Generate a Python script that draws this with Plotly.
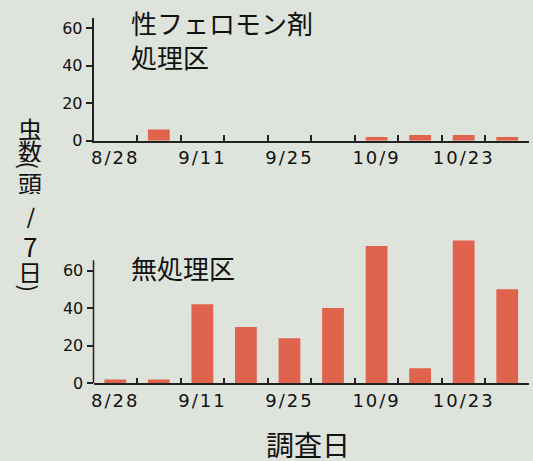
import plotly.graph_objects as go

dates = ["8/28", "9/4", "9/11", "9/18", "9/25", "10/2", "10/9", "10/16", "10/23", "10/30"]
pheromone = [0, 6, 0, 0, 0, 0, 2, 3, 3, 2]
untreated = [2, 2, 42, 30, 24, 40, 73, 8, 76, 50]
y_ticks = [0, 20, 40, 60]
label_top = "性フェロモン剤<br>処理区"
label_bottom = "無処理区"
x_title = "調査日"
y_title_chars = ["虫", "数", "(", "頭", "/", "7", "日", ")"]

W, H = 533, 461
BG = "#dee3dc"
BAR = "#df634d"
AX = "#222222"
TXT = "#111111"
CJK = "Noto Sans CJK JP"

xpos = list(range(len(dates)))

fig = go.Figure()
fig.add_trace(go.Bar(x=xpos, y=pheromone, width=0.5, marker=dict(color=BAR, line_width=0),
                     xaxis="x", yaxis="y", showlegend=False))
fig.add_trace(go.Bar(x=xpos, y=untreated, width=0.5, marker=dict(color=BAR, line_width=0),
                     xaxis="x2", yaxis="y2", showlegend=False))

xdom = [93.5 / W, 529 / W]
ppu = 1.88
top_base = 140.7
bot_base = 383.3
ymax_line = 65.5
top_dom = [(H - top_base) / H, (H - top_base + ymax_line * ppu) / H]
bot_dom = [(H - bot_base) / H, (H - bot_base + 80 * ppu) / H]

xcommon = dict(
    range=[-0.5, len(dates) - 0.5],
    tickmode="array",
    tickvals=xpos[0::2],
    ticktext=dates[0::2],
    ticks="",
    showline=True, linecolor=AX, linewidth=1.5,
    showgrid=False, zeroline=False, automargin=False,
    tickfont=dict(family="DejaVu Sans", size=18, color=TXT),
    minor=dict(tickmode="array", tickvals=[i + 0.5 for i in xpos[:-1]],
               ticks="inside", ticklen=6, tickwidth=1.5, tickcolor=AX, showgrid=False),
    fixedrange=True,
)
ycommon = dict(
    tickmode="array", tickvals=y_ticks,
    ticks="outside", ticklen=6, tickwidth=1.5, tickcolor=AX,
    showgrid=False, zeroline=False, automargin=False,
    tickfont=dict(family="DejaVu Sans", size=16, color=TXT),
    fixedrange=True,
)

fig.update_layout(
    width=W, height=H, autosize=False,
    margin=dict(l=0, r=0, t=0, b=0, pad=0, autoexpand=False),
    paper_bgcolor=BG, plot_bgcolor=BG,
    bargap=0.5,
    xaxis=dict(domain=xdom, anchor="y", **xcommon),
    yaxis=dict(domain=top_dom, anchor="x", range=[0, ymax_line],
               showline=True, linecolor=AX, linewidth=1.5, **ycommon),
    xaxis2=dict(domain=xdom, anchor="y2", **xcommon),
    yaxis2=dict(domain=bot_dom, anchor="x2", range=[0, 80], showline=False, **ycommon),
    shapes=[dict(type="line", xref="x2 domain", yref="y2", x0=0, x1=0, y0=0, y1=ymax_line,
                 line=dict(color=AX, width=1.5))],
)

ann = [
    dict(text=label_top, x=128.5 / W, y=(H - 2) / H, xanchor="left", yanchor="top", align="left",
         font=dict(family=CJK, size=26, color=TXT)),
    dict(text=label_bottom, x=128.5 / W, y=(H - 247) / H, xanchor="left", yanchor="top", align="left",
         font=dict(family=CJK, size=26, color=TXT)),
    dict(text=x_title, x=308 / W, y=(H - 444) / H, xanchor="center", yanchor="middle",
         height=32, font=dict(family=CJK, size=28, color=TXT)),
]
y_centers = [128, 150, 164.5, 181.5, 215.5, 245, 271, 287.5]
y_sizes = [24, 24, 22, 24, 26, 26, 24, 22]
y_angles = [0, 0, 90, 0, 0, 0, 0, 90]
for ch, yc, sz, ang in zip(y_title_chars, y_centers, y_sizes, y_angles):
    a = dict(text=ch, x=30 / W, y=(H - yc) / H, xanchor="center", yanchor="middle",
             textangle=ang, font=dict(family=CJK, size=sz, color=TXT))
    if ang == 0:
        a["height"] = 24
    ann.append(a)
for a in ann:
    a.update(xref="paper", yref="paper", showarrow=False)
fig.update_layout(annotations=ann)

page_js = """
document.body.style.margin='0px';
var s=document.createElement('style');
s.textContent='.xtick text, .x2tick text {letter-spacing: 2px;}';
document.head.appendChild(s);
"""
fig.write_html("out.html", config={"displayModeBar": False}, post_script=page_js)
